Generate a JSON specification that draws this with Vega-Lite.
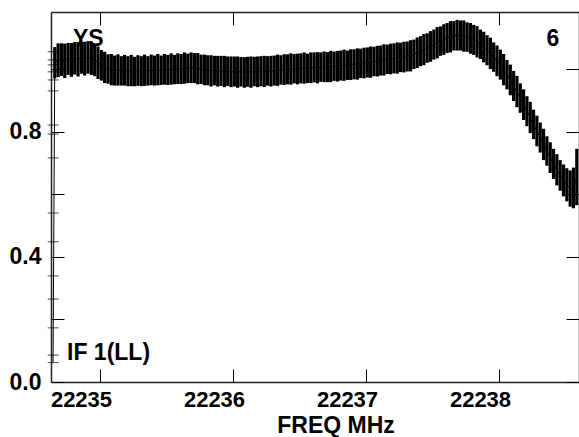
{
  "$schema": "https://vega.github.io/schema/vega-lite/v6.json",
  "width": 528,
  "height": 370,
  "autosize": "none",
  "padding": {"left": 51, "top": 12, "right": 0, "bottom": 55},
  "background": "white",
  "config": {
    "view": {"stroke": null},
    "font": "Liberation Sans",
    "axis": {"labelFont": "Liberation Sans", "titleFont": "Liberation Sans", "labelColor": "black", "titleColor": "black", "grid": false, "tickColor": "black", "tickWidth": 1, "domainColor": "#222", "domainWidth": 1.5}
  },
  "datasets": {
    "band": [
      {"f": 22234.647, "a": 0.062, "e": 0},
      {"f": 22234.66, "a": 1.02, "e": 0.05},
      {"f": 22234.685, "a": 1.028, "e": 0.054},
      {"f": 22234.71, "a": 1.03, "e": 0.052},
      {"f": 22234.735, "a": 1.026, "e": 0.055},
      {"f": 22234.76, "a": 1.032, "e": 0.051},
      {"f": 22234.785, "a": 1.029, "e": 0.054},
      {"f": 22234.81, "a": 1.034, "e": 0.052},
      {"f": 22234.835, "a": 1.031, "e": 0.055},
      {"f": 22234.86, "a": 1.036, "e": 0.051},
      {"f": 22234.885, "a": 1.033, "e": 0.054},
      {"f": 22234.91, "a": 1.037, "e": 0.052},
      {"f": 22234.935, "a": 1.034, "e": 0.053},
      {"f": 22234.96, "a": 1.028, "e": 0.051},
      {"f": 22234.985, "a": 1.02, "e": 0.052},
      {"f": 22235.01, "a": 1.012, "e": 0.049},
      {"f": 22235.035, "a": 1.005, "e": 0.05},
      {"f": 22235.06, "a": 1.0, "e": 0.047},
      {"f": 22235.085, "a": 0.998, "e": 0.05},
      {"f": 22235.11, "a": 0.995, "e": 0.048},
      {"f": 22235.135, "a": 0.997, "e": 0.05},
      {"f": 22235.16, "a": 0.994, "e": 0.047},
      {"f": 22235.185, "a": 0.996, "e": 0.049},
      {"f": 22235.21, "a": 0.993, "e": 0.048},
      {"f": 22235.235, "a": 0.995, "e": 0.05},
      {"f": 22235.26, "a": 0.992, "e": 0.047},
      {"f": 22235.285, "a": 0.995, "e": 0.049},
      {"f": 22235.31, "a": 0.993, "e": 0.048},
      {"f": 22235.335, "a": 0.996, "e": 0.05},
      {"f": 22235.36, "a": 0.994, "e": 0.047},
      {"f": 22235.385, "a": 0.997, "e": 0.049},
      {"f": 22235.41, "a": 0.995, "e": 0.048},
      {"f": 22235.435, "a": 0.998, "e": 0.05},
      {"f": 22235.46, "a": 0.996, "e": 0.047},
      {"f": 22235.485, "a": 0.999, "e": 0.049},
      {"f": 22235.51, "a": 0.997, "e": 0.048},
      {"f": 22235.535, "a": 1.0, "e": 0.05},
      {"f": 22235.56, "a": 0.998, "e": 0.047},
      {"f": 22235.585, "a": 1.001, "e": 0.049},
      {"f": 22235.61, "a": 1.0, "e": 0.048},
      {"f": 22235.635, "a": 1.003, "e": 0.05},
      {"f": 22235.66, "a": 1.002, "e": 0.047},
      {"f": 22235.685, "a": 1.004, "e": 0.049},
      {"f": 22235.71, "a": 1.003, "e": 0.048},
      {"f": 22235.735, "a": 1.001, "e": 0.05},
      {"f": 22235.76, "a": 0.999, "e": 0.047},
      {"f": 22235.785, "a": 0.997, "e": 0.049},
      {"f": 22235.81, "a": 0.996, "e": 0.048},
      {"f": 22235.835, "a": 0.994, "e": 0.05},
      {"f": 22235.86, "a": 0.995, "e": 0.047},
      {"f": 22235.885, "a": 0.993, "e": 0.049},
      {"f": 22235.91, "a": 0.994, "e": 0.048},
      {"f": 22235.935, "a": 0.992, "e": 0.05},
      {"f": 22235.96, "a": 0.993, "e": 0.047},
      {"f": 22235.985, "a": 0.991, "e": 0.049},
      {"f": 22236.01, "a": 0.992, "e": 0.048},
      {"f": 22236.035, "a": 0.99, "e": 0.05},
      {"f": 22236.06, "a": 0.991, "e": 0.047},
      {"f": 22236.085, "a": 0.989, "e": 0.049},
      {"f": 22236.11, "a": 0.991, "e": 0.048},
      {"f": 22236.135, "a": 0.99, "e": 0.05},
      {"f": 22236.16, "a": 0.992, "e": 0.047},
      {"f": 22236.185, "a": 0.991, "e": 0.049},
      {"f": 22236.21, "a": 0.993, "e": 0.048},
      {"f": 22236.235, "a": 0.992, "e": 0.05},
      {"f": 22236.26, "a": 0.994, "e": 0.047},
      {"f": 22236.285, "a": 0.993, "e": 0.049},
      {"f": 22236.31, "a": 0.995, "e": 0.048},
      {"f": 22236.335, "a": 0.996, "e": 0.05},
      {"f": 22236.36, "a": 0.997, "e": 0.047},
      {"f": 22236.385, "a": 0.998, "e": 0.049},
      {"f": 22236.41, "a": 0.999, "e": 0.048},
      {"f": 22236.435, "a": 1.0, "e": 0.05},
      {"f": 22236.46, "a": 1.001, "e": 0.047},
      {"f": 22236.485, "a": 1.0, "e": 0.049},
      {"f": 22236.51, "a": 1.002, "e": 0.048},
      {"f": 22236.535, "a": 1.003, "e": 0.05},
      {"f": 22236.56, "a": 1.002, "e": 0.047},
      {"f": 22236.585, "a": 1.004, "e": 0.049},
      {"f": 22236.61, "a": 1.005, "e": 0.048},
      {"f": 22236.635, "a": 1.004, "e": 0.05},
      {"f": 22236.66, "a": 1.006, "e": 0.047},
      {"f": 22236.685, "a": 1.007, "e": 0.049},
      {"f": 22236.71, "a": 1.006, "e": 0.048},
      {"f": 22236.735, "a": 1.008, "e": 0.05},
      {"f": 22236.76, "a": 1.009, "e": 0.047},
      {"f": 22236.785, "a": 1.009, "e": 0.049},
      {"f": 22236.81, "a": 1.011, "e": 0.048},
      {"f": 22236.835, "a": 1.012, "e": 0.05},
      {"f": 22236.86, "a": 1.012, "e": 0.047},
      {"f": 22236.885, "a": 1.014, "e": 0.049},
      {"f": 22236.91, "a": 1.015, "e": 0.048},
      {"f": 22236.935, "a": 1.016, "e": 0.05},
      {"f": 22236.96, "a": 1.018, "e": 0.047},
      {"f": 22236.985, "a": 1.019, "e": 0.049},
      {"f": 22237.01, "a": 1.021, "e": 0.048},
      {"f": 22237.035, "a": 1.022, "e": 0.05},
      {"f": 22237.06, "a": 1.024, "e": 0.047},
      {"f": 22237.085, "a": 1.025, "e": 0.049},
      {"f": 22237.11, "a": 1.027, "e": 0.048},
      {"f": 22237.135, "a": 1.029, "e": 0.05},
      {"f": 22237.16, "a": 1.031, "e": 0.047},
      {"f": 22237.185, "a": 1.032, "e": 0.049},
      {"f": 22237.21, "a": 1.034, "e": 0.048},
      {"f": 22237.235, "a": 1.035, "e": 0.05},
      {"f": 22237.26, "a": 1.037, "e": 0.047},
      {"f": 22237.285, "a": 1.038, "e": 0.049},
      {"f": 22237.31, "a": 1.04, "e": 0.048},
      {"f": 22237.335, "a": 1.042, "e": 0.05},
      {"f": 22237.36, "a": 1.047, "e": 0.047},
      {"f": 22237.385, "a": 1.052, "e": 0.049},
      {"f": 22237.41, "a": 1.057, "e": 0.048},
      {"f": 22237.435, "a": 1.062, "e": 0.05},
      {"f": 22237.46, "a": 1.067, "e": 0.047},
      {"f": 22237.485, "a": 1.072, "e": 0.049},
      {"f": 22237.51, "a": 1.078, "e": 0.048},
      {"f": 22237.535, "a": 1.084, "e": 0.05},
      {"f": 22237.56, "a": 1.089, "e": 0.047},
      {"f": 22237.585, "a": 1.094, "e": 0.049},
      {"f": 22237.61, "a": 1.099, "e": 0.048},
      {"f": 22237.635, "a": 1.103, "e": 0.05},
      {"f": 22237.66, "a": 1.106, "e": 0.047},
      {"f": 22237.685, "a": 1.108, "e": 0.049},
      {"f": 22237.71, "a": 1.107, "e": 0.048},
      {"f": 22237.735, "a": 1.105, "e": 0.05},
      {"f": 22237.76, "a": 1.102, "e": 0.047},
      {"f": 22237.785, "a": 1.098, "e": 0.049},
      {"f": 22237.81, "a": 1.093, "e": 0.048},
      {"f": 22237.835, "a": 1.087, "e": 0.05},
      {"f": 22237.86, "a": 1.079, "e": 0.047},
      {"f": 22237.885, "a": 1.07, "e": 0.049},
      {"f": 22237.91, "a": 1.06, "e": 0.048},
      {"f": 22237.935, "a": 1.05, "e": 0.05},
      {"f": 22237.96, "a": 1.038, "e": 0.047},
      {"f": 22237.985, "a": 1.026, "e": 0.049},
      {"f": 22238.01, "a": 1.014, "e": 0.048},
      {"f": 22238.035, "a": 0.998, "e": 0.05},
      {"f": 22238.06, "a": 0.982, "e": 0.047},
      {"f": 22238.085, "a": 0.965, "e": 0.049},
      {"f": 22238.11, "a": 0.946, "e": 0.048},
      {"f": 22238.135, "a": 0.928, "e": 0.05},
      {"f": 22238.16, "a": 0.907, "e": 0.047},
      {"f": 22238.185, "a": 0.886, "e": 0.049},
      {"f": 22238.21, "a": 0.865, "e": 0.048},
      {"f": 22238.235, "a": 0.845, "e": 0.05},
      {"f": 22238.26, "a": 0.823, "e": 0.047},
      {"f": 22238.285, "a": 0.802, "e": 0.049},
      {"f": 22238.31, "a": 0.781, "e": 0.048},
      {"f": 22238.335, "a": 0.759, "e": 0.05},
      {"f": 22238.36, "a": 0.738, "e": 0.047},
      {"f": 22238.385, "a": 0.717, "e": 0.049},
      {"f": 22238.41, "a": 0.697, "e": 0.048},
      {"f": 22238.435, "a": 0.678, "e": 0.05},
      {"f": 22238.46, "a": 0.66, "e": 0.049},
      {"f": 22238.485, "a": 0.644, "e": 0.051},
      {"f": 22238.51, "a": 0.63, "e": 0.053},
      {"f": 22238.535, "a": 0.618, "e": 0.058},
      {"f": 22238.56, "a": 0.62, "e": 0.065},
      {"f": 22238.585, "a": 0.655, "e": 0.09}
    ],
    "caps": [
      {"f": 22234.648, "a": 1.055},
      {"f": 22234.648, "a": 1.029},
      {"f": 22234.648, "a": 1.013},
      {"f": 22234.648, "a": 0.991},
      {"f": 22234.648, "a": 0.965},
      {"f": 22234.648, "a": 0.93},
      {"f": 22234.648, "a": 0.821},
      {"f": 22234.648, "a": 0.792},
      {"f": 22234.648, "a": 0.716},
      {"f": 22234.648, "a": 0.54},
      {"f": 22234.648, "a": 0.448},
      {"f": 22234.648, "a": 0.339},
      {"f": 22234.648, "a": 0.265},
      {"f": 22234.648, "a": 0.173},
      {"f": 22234.648, "a": 0.086},
      {"f": 22234.648, "a": 0.062}
    ],
    "labels": [
      {"f": 22234.797, "a": 1.072, "t": "YS"},
      {"f": 22238.358, "a": 1.072, "t": "6"},
      {"f": 22234.752, "a": 0.07, "t": "IF 1(LL)"}
    ]
  },
  "layer": [
    {
      "data": {"name": "band"},
      "mark": {"type": "errorbar", "thickness": 3.2, "color": "black"},
      "encoding": {
        "x": {
          "field": "f", "type": "quantitative",
          "scale": {"domain": [22234.6316, 22238.6015], "nice": false, "zero": false},
          "axis": {
            "orient": "bottom", "values": [22235, 22236, 22237, 22238], "format": "d",
            "ticks": true, "tickSize": -13, "domain": true, "labelPadding": 20, "labelOffset": -19,
            "labelFontSize": 22, "labelFontWeight": "bold", "labelFlush": false, "labelOverlap": false,
            "title": "FREQ MHz", "titleFontSize": 23, "titleFontWeight": "bold",
            "titleX": 284.5, "titleY": 50, "titleBaseline": "alphabetic", "titleAlign": "center", "titleAnchor": "start"
          }
        },
        "y": {
          "field": "a", "type": "quantitative",
          "scale": {"domain": [0, 1.1821], "nice": false, "zero": false},
          "axis": {
            "orient": "left", "values": [0, 0.2, 0.4, 0.6, 0.8, 1.0],
            "labelExpr": "round(datum.value * 10) % 4 == 0 ? format(datum.value, '.1f') : ''",
            "ticks": true, "tickSize": -13, "domain": true, "labelPadding": 23,
            "labelFontSize": 23, "labelFontWeight": "bold", "labelFlush": false, "labelOverlap": false,
            "title": null
          }
        },
        "yError": {"field": "e"}
      }
    },
    {
      "data": {"name": "band"},
      "mark": {"type": "line", "color": "black", "strokeWidth": 1},
      "encoding": {
        "x": {"field": "f", "type": "quantitative", "axis": null},
        "y": {"field": "a", "type": "quantitative", "axis": null}
      }
    },
    {
      "data": {"name": "caps"},
      "mark": {"type": "tick", "orient": "horizontal", "size": 11, "thickness": 1, "color": "black"},
      "encoding": {
        "x": {"field": "f", "type": "quantitative", "axis": null},
        "y": {"field": "a", "type": "quantitative", "axis": null}
      }
    },
    {
      "data": {"name": "labels"},
      "mark": {"type": "text", "align": "left", "baseline": "alphabetic", "fontSize": 23, "fontWeight": "bold", "font": "Liberation Sans", "color": "black"},
      "encoding": {
        "x": {
          "field": "f", "type": "quantitative",
          "axis": {"orient": "top", "values": [22235, 22236, 22237, 22238], "labels": false, "domain": true, "ticks": true, "tickSize": -13, "title": null}
        },
        "y": {
          "field": "a", "type": "quantitative",
          "axis": {"orient": "right", "values": [0, 0.2, 0.4, 0.6, 0.8, 1.0], "labels": false, "domain": true, "ticks": true, "tickSize": -13, "title": null}
        },
        "text": {"field": "t"}
      }
    }
  ],
  "resolve": {"axis": {"x": "independent", "y": "independent"}}
}
